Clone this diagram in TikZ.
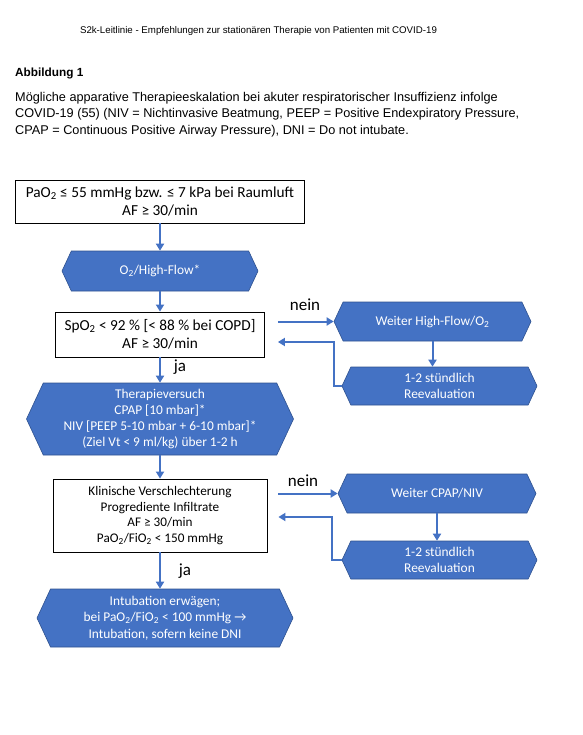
\documentclass[tikz,border=0pt]{standalone}
\usepackage{fontspec}
\setmainfont{Liberation Sans}
\newfontfamily\calib{Carlito}
\usetikzlibrary{shapes.symbols,arrows.meta}
\definecolor{hexblue}{HTML}{4472C4}
\definecolor{hexline}{HTML}{2F528F}

\begin{document}
\begin{tikzpicture}[x=1pt,y=-1pt,
  box/.style={draw=black,line width=0.8pt,fill=white,align=center,inner sep=0pt,font=\calib\fontsize{15.3}{18}\selectfont},
  hexa/.style={shape=signal,signal to=west and east,signal pointer angle=130,fill=hexblue,draw=hexline,line width=0.6pt,text=white,align=center,inner sep=0pt,font=\calib\fontsize{13.4}{16.3}\selectfont},
  flow/.style={draw=hexblue,line width=2pt,-{Triangle[length=7pt,width=8pt]}},
  lbl/.style={font=\calib\fontsize{17}{20}\selectfont}]

\useasboundingbox (0,0) rectangle (582,735);

% Kopfzeile und Legende
\node[font=\fontsize{9.7}{11}\selectfont] (kopf) at (258.5,31) {S2k-Leitlinie - Empfehlungen zur stationären Therapie von Patienten mit COVID-19};
\node[anchor=west,inner sep=0pt,font=\bfseries\fontsize{11.8}{14}\selectfont] (titel) at (15,73) {Abbildung 1};
\node[anchor=north west,align=left,inner sep=0pt,font=\fontsize{12.7}{16.5}\selectfont] (legende) at (15,92)
  {Mögliche apparative Therapieeskalation bei akuter respiratorischer Insuffizienz infolge\\
   COVID-19 (55) (NIV = Nichtinvasive Beatmung, PEEP = Positive Endexpiratory Pressure,\\
   CPAP = Continuous Positive Airway Pressure), DNI = Do not intubate.};

% linke Spalte
\node[box,minimum width=289pt,minimum height=43pt] (start) at (160,201.5)
  {PaO\textsubscript{2} ≤ 55 mmHg bzw. ≤ 7 kPa bei Raumluft\\AF ≥ 30/min};
\node[hexa,minimum width=196pt,minimum height=40pt] (hflow) at (160,271) {O\textsubscript{2}/High-Flow*};
\node[box,minimum width=209pt,minimum height=45pt] (spo) at (160,334.5)
  {SpO\textsubscript{2} < 92 \% [< 88 \% bei COPD]\\AF ≥ 30/min};
\node[hexa,minimum width=267pt,minimum height=72pt] (versuch) at (160,419)
  {Therapieversuch\\CPAP [10 mbar]*\\NIV [PEEP 5-10 mbar + 6-10 mbar]*\\(Ziel Vt < 9 ml/kg) über 1-2 h};
\node[box,minimum width=214pt,minimum height=73pt,font=\calib\fontsize{13.2}{15.8}\selectfont] (klinik) at (160,515.5)
  {Klinische Verschlechterung\\Progrediente Infiltrate\\AF ≥ 30/min\\PaO\textsubscript{2}/FiO\textsubscript{2} < 150 mmHg};
\node[hexa,minimum width=256pt,minimum height=58pt] (intub) at (165,618)
  {Intubation erwägen;\\bei PaO\textsubscript{2}/FiO\textsubscript{2} < 100 mmHg →\\Intubation, sofern keine DNI};

% rechte Spalte
\node[hexa,minimum width=197pt,minimum height=39pt] (weiterhf) at (432.5,321.5) {Weiter High-Flow/O\textsubscript{2}};
\node[hexa,minimum width=195pt,minimum height=38pt] (reeval1) at (439.5,386) {1-2 stündlich\\Reevaluation};
\node[hexa,minimum width=198pt,minimum height=39pt] (weitercpap) at (437,493.5) {Weiter CPAP/NIV};
\node[hexa,minimum width=195pt,minimum height=38pt] (reeval2) at (439.5,560) {1-2 stündlich\\Reevaluation};

\coordinate (knick1) at (334,342);
\coordinate (knick2) at (332,517);

% Pfeile
\draw[flow] (start.south) -- (hflow.north);
\draw[flow] (hflow.south) -- (spo.north);
\draw[flow] (spo.south) -- (versuch.north);
\draw[flow] (versuch.south) -- (klinik.north);
\draw[flow] (klinik.south) -- (klinik.south |- intub.north);

\draw[flow,shorten <=13pt] (spo.east |- weiterhf.west) -- (weiterhf.west);
\draw[flow] (weiterhf.south) -- (weiterhf.south |- reeval1.north);
\draw[flow,shorten >=13pt] (reeval1.west) -| (knick1) -- (spo.east |- knick1);

\draw[flow,shorten <=11pt] (klinik.east |- weitercpap.west) -- (weitercpap.west);
\draw[flow] (weitercpap.south) -- (weitercpap.south |- reeval2.north);
\draw[flow,shorten >=11pt] (reeval2.west) -| (knick2) -- (klinik.east |- knick2);

\node[lbl] (nein1) at (305,305) {nein};
\node[lbl] (ja1) at (180,367) {ja};
\node[lbl] (nein2) at (303,481) {nein};
\node[lbl] (ja2) at (185,571) {ja};

\end{tikzpicture}
\end{document}
